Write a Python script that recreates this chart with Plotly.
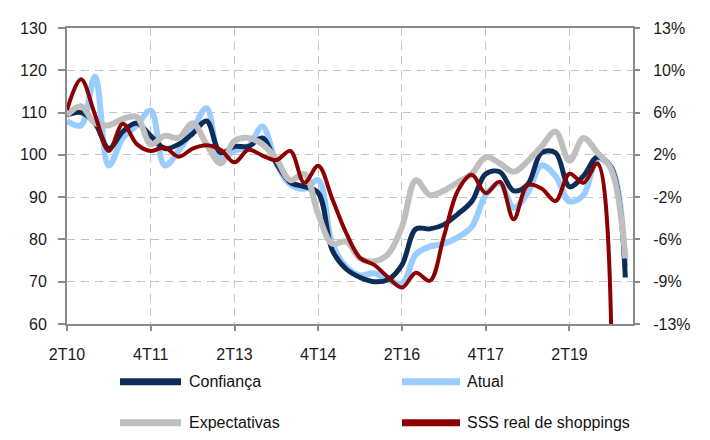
import plotly.graph_objects as go

quarters = ["2T10", "3T10", "4T10", "1T11", "2T11", "3T11", "4T11", "1T12", "2T12", "3T12", "4T12",
            "1T13", "2T13", "3T13", "4T13", "1T14", "2T14", "3T14", "4T14", "1T15", "2T15", "3T15",
            "4T15", "1T16", "2T16", "3T16", "4T16", "1T17", "2T17", "3T17", "4T17", "1T18", "2T18",
            "3T18", "4T18", "1T19", "2T19", "3T19", "4T19", "1T20", "2T20"]

tick_labels = ["2T10", "4T11", "2T13", "4T14", "2T16", "4T17", "2T19"]

confianca = [109.4, 110, 107.5, 101.5, 105.5, 107.5, 104.5, 101.5, 102.5, 105, 108, 100.5, 102, 102,
             104, 98, 93.5, 92.5, 91, 77.5, 73, 71, 70, 70.5, 74, 82.5, 82.5, 83.5, 86, 89, 95.5, 96,
             91.5, 93, 100.5, 100.5, 92.5, 95, 99.5, 97, 71]

atual = [108, 107, 118.5, 97.5, 104, 107, 110.5, 97.5, 101, 106, 111, 99, 101, 102, 106.7, 98, 93,
         92, 94, 79, 73.5, 71.5, 72, 70.5, 69.5, 76.5, 78.3, 79, 80.5, 83, 90.5, 93.3, 87.5, 91,
         97.5, 95, 89, 90.5, 99, 97, 73.5]

expectativas = [109.4, 111.5, 107.5, 107, 108.5, 109, 102.5, 104.5, 104, 107.5, 102.5, 98, 103.3,
                104, 102.5, 99, 94, 95.5, 86, 79, 79.5, 75.5, 74.8, 76.5, 83, 94, 90.5, 91.5, 93.5,
                95.5, 99.5, 98, 96, 98.5, 102, 105.5, 98.6, 104, 100.5, 96.5, 75.5]

sss_real = [5.8, 8.5, 5.4, 2.2, 4.6, 2.8, 2.2, 2.5, 1.7, 2.4, 2.7, 2.3, 1.2, 2.3, 1.8, 1.4, 2.2,
            -0.6, 0.9, -2.0, -5.0, -7.2, -7.8, -8.9, -9.8, -8.5, -9.2, -5.3, -1.3, 0.1, -1.5, -0.5,
            -3.8, -0.8, -1.1, -2.2, 0.2, -0.6, 1.1, -14.0]

right_ticktext = ["-13%", "-9%", "-6%", "-2%", "2%", "6%", "10%", "13%"]

C_NAVY = "#0c2d57"
C_LBLUE = "#99ccff"
C_GRAY = "#bfbfbf"
C_RED = "#8b0000"

FONT = "Liberation Sans, Arial, sans-serif"

fig = go.Figure()
fig.add_trace(go.Scatter(x=quarters, y=atual, name="Atual", mode="lines",
                         line=dict(color=C_LBLUE, width=6, shape="spline", smoothing=1.0)))
fig.add_trace(go.Scatter(x=quarters, y=confianca, name="Confiança", mode="lines",
                         line=dict(color=C_NAVY, width=5, shape="spline", smoothing=1.0)))
fig.add_trace(go.Scatter(x=quarters, y=expectativas, name="Expectativas", mode="lines",
                         line=dict(color=C_GRAY, width=6, shape="spline", smoothing=1.0)))
fig.add_trace(go.Scatter(x=quarters[:len(sss_real)], y=sss_real, name="SSS real de shoppings",
                         mode="lines", yaxis="y2",
                         line=dict(color=C_RED, width=4, shape="spline", smoothing=1.0)))

# The page body has an 8px margin, so the figure is sized/offset to compensate.
OFF = 8
W, H = 710 - OFF, 440 - OFF
PLOT_L, PLOT_R, PLOT_T, PLOT_B = 67, 633, 21, 324  # page pixel coordinates of the plot area
L = PLOT_L - OFF
T = PLOT_T - OFF
R = W - (PLOT_R - OFF)
B = H - (PLOT_B - OFF)
pw, ph = PLOT_R - PLOT_L, PLOT_B - PLOT_T

n_r = len(right_ticktext) - 1
right_tickvals = [-13 + k * 26 / n_r for k in range(n_r + 1)]

fig.update_layout(
    width=W, height=H,
    margin=dict(l=L, r=R, t=T, b=B, pad=0),
    paper_bgcolor="white", plot_bgcolor="white",
    showlegend=False,
    font=dict(family=FONT, size=16, color="#1a1a1a"),
    xaxis=dict(
        type="category", categoryorder="array", categoryarray=quarters,
        range=[0, 40.55], tickvals=tick_labels, ticktext=tick_labels,
        showgrid=True, gridcolor="#c4c4c4", gridwidth=1.3, griddash="8px,6px",
        showline=True, linecolor="#8a8a8a", linewidth=2, mirror=True,
        ticks="outside", ticklen=5, tickcolor="#8a8a8a", tickwidth=2,
        ticklabelstandoff=10, zeroline=False,
        tickfont=dict(family=FONT, size=16, color="#1a1a1a"),
    ),
    yaxis=dict(
        range=[60, 130], dtick=10, tick0=60,
        showgrid=True, gridcolor="#c4c4c4", gridwidth=1.3, griddash="8px,6px",
        showline=True, linecolor="#8a8a8a", linewidth=2,
        ticks="outside", ticklen=7, tickcolor="#8a8a8a", tickwidth=2,
        ticklabelstandoff=8, zeroline=False,
        tickfont=dict(family=FONT, size=16, color="#1a1a1a"),
    ),
    yaxis2=dict(
        overlaying="y", side="right", range=[-13, 13],
        tickvals=right_tickvals, ticktext=right_ticktext,
        showgrid=False, zeroline=False,
        showline=True, linecolor="#8a8a8a", linewidth=2,
        ticks="outside", ticklen=5, tickcolor="#8a8a8a", tickwidth=2,
        ticklabelstandoff=10,
        tickfont=dict(family=FONT, size=16, color="#1a1a1a"),
    ),
)

# Legend drawn manually (two columns, long line samples); page pixel positions
legend_items = [
    ("Confiança", C_NAVY, 120, 181, 187, 383),
    ("Atual", C_LBLUE, 402, 460, 465, 383),
    ("Expectativas", C_GRAY, 120, 181, 187, 425),
    ("SSS real de shoppings", C_RED, 402, 460, 465, 425),
]

def px_x(p):
    return (p - PLOT_L) / pw

def px_y(p):
    return (PLOT_B - p) / ph

for name, col, x0, x1, tx, ty in legend_items:
    fig.add_shape(type="line", xref="paper", yref="paper",
                  x0=px_x(x0), x1=px_x(x1), y0=px_y(ty), y1=px_y(ty),
                  line=dict(color=col, width=7))
    fig.add_annotation(xref="paper", yref="paper", x=px_x(tx), y=px_y(ty),
                       text=name, showarrow=False, xanchor="left", yanchor="middle",
                       font=dict(family=FONT, size=16, color="#111111"))

fig.write_html("out.html")
